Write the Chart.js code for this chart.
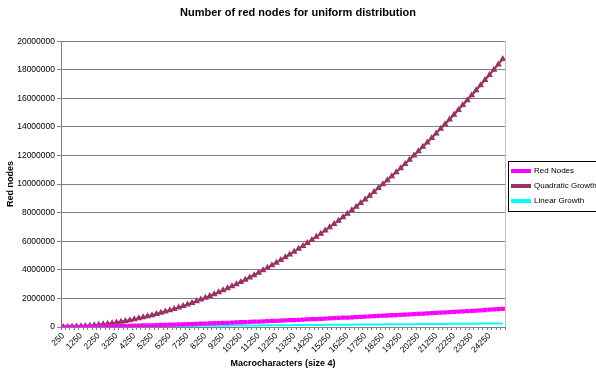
<!DOCTYPE html>
<html>
<head>
<meta charset="utf-8">
<script src="https://cdn.jsdelivr.net/npm/chart.js@4.4.1/dist/chart.umd.min.js"></script>
<style>
  html, body { margin: 0; padding: 0; background: #fff; }
  #wrap { width: 596px; height: 372px; }
</style>
</head>
<body>
<div id="wrap"><canvas id="chart" width="596" height="372"></canvas></div>
<script>
// ===== Data =====
// Macrocharacter counts (step 250)
const macrocharacters = [
  250, 500, 750, 1000, 1250, 1500, 1750, 2000, 2250, 2500,
  2750, 3000, 3250, 3500, 3750, 4000, 4250, 4500, 4750, 5000,
  5250, 5500, 5750, 6000, 6250, 6500, 6750, 7000, 7250, 7500,
  7750, 8000, 8250, 8500, 8750, 9000, 9250, 9500, 9750, 10000,
  10250, 10500, 10750, 11000, 11250, 11500, 11750, 12000, 12250, 12500,
  12750, 13000, 13250, 13500, 13750, 14000, 14250, 14500, 14750, 15000,
  15250, 15500, 15750, 16000, 16250, 16500, 16750, 17000, 17250, 17500,
  17750, 18000, 18250, 18500, 18750, 19000, 19250, 19500, 19750, 20000,
  20250, 20500, 20750, 21000, 21250, 21500, 21750, 22000, 22250, 22500,
  22750, 23000, 23250, 23500, 23750, 24000, 24250, 24500, 24750, 25000,
];

const redNodes = [
  1000, 4000, 7000, 10000, 14000, 19000, 23000, 29000, 34000, 40000,
  46000, 53000, 59000, 66000, 73000, 81000, 89000, 97000, 105000, 113000,
  122000, 131000, 140000, 149000, 158000, 168000, 177000, 187000, 198000, 208000,
  218000, 229000, 240000, 251000, 262000, 273000, 285000, 296000, 308000, 320000,
  332000, 344000, 357000, 369000, 382000, 395000, 408000, 421000, 434000, 447000,
  461000, 474000, 488000, 502000, 516000, 530000, 544000, 559000, 573000, 588000,
  603000, 618000, 633000, 648000, 663000, 678000, 694000, 709000, 725000, 741000,
  757000, 773000, 789000, 805000, 822000, 838000, 855000, 871000, 888000, 905000,
  922000, 939000, 957000, 974000, 991000, 1009000, 1027000, 1044000, 1062000, 1080000,
  1098000, 1116000, 1135000, 1153000, 1171000, 1190000, 1208000, 1227000, 1246000, 1265000,
];

const quadraticGrowth = [
  1875, 7500, 16875, 30000, 46875, 67500, 91875, 120000, 151875, 187500,
  226875, 270000, 316875, 367500, 421875, 480000, 541875, 607500, 676875, 750000,
  826875, 907500, 991875, 1080000, 1171875, 1267500, 1366875, 1470000, 1576875, 1687500,
  1801875, 1920000, 2041875, 2167500, 2296875, 2430000, 2566875, 2707500, 2851875, 3000000,
  3151875, 3307500, 3466875, 3630000, 3796875, 3967500, 4141875, 4320000, 4501875, 4687500,
  4876875, 5070000, 5266875, 5467500, 5671875, 5880000, 6091875, 6307500, 6526875, 6750000,
  6976875, 7207500, 7441875, 7680000, 7921875, 8167500, 8416875, 8670000, 8926875, 9187500,
  9451875, 9720000, 9991875, 10267500, 10546875, 10830000, 11116875, 11407500, 11701875, 12000000,
  12301875, 12607500, 12916875, 13230000, 13546875, 13867500, 14191875, 14520000, 14851875, 15187500,
  15526875, 15870000, 16216875, 16567500, 16921875, 17280000, 17641875, 18007500, 18376875, 18750000,
];

const linearGrowth = [
  2500, 5000, 7500, 10000, 12500, 15000, 17500, 20000, 22500, 25000,
  27500, 30000, 32500, 35000, 37500, 40000, 42500, 45000, 47500, 50000,
  52500, 55000, 57500, 60000, 62500, 65000, 67500, 70000, 72500, 75000,
  77500, 80000, 82500, 85000, 87500, 90000, 92500, 95000, 97500, 100000,
  102500, 105000, 107500, 110000, 112500, 115000, 117500, 120000, 122500, 125000,
  127500, 130000, 132500, 135000, 137500, 140000, 142500, 145000, 147500, 150000,
  152500, 155000, 157500, 160000, 162500, 165000, 167500, 170000, 172500, 175000,
  177500, 180000, 182500, 185000, 187500, 190000, 192500, 195000, 197500, 200000,
  202500, 205000, 207500, 210000, 212500, 215000, 217500, 220000, 222500, 225000,
  227500, 230000, 232500, 235000, 237500, 240000, 242500, 245000, 247500, 250000,
];

const yTicks = [0, 2000000, 4000000, 6000000, 8000000, 10000000,
  12000000, 14000000, 16000000, 18000000, 20000000];

// ===== Chart =====
const FONT = 'Liberation Sans, Arial, sans-serif';
Chart.defaults.font.family = FONT;
Chart.defaults.color = '#000';

// black frame round the legend + grey right edge of the plot, like Excel
const excelFrame = {
  id: 'excelFrame',
  afterDraw(chart) {
    const c = chart.ctx;
    const area = chart.chartArea;
    c.save();
    c.strokeStyle = '#c0c0c0';
    c.lineWidth = 1;
    c.beginPath();
    c.moveTo(Math.round(area.right) + 0.5, area.top);
    c.lineTo(Math.round(area.right) + 0.5, area.bottom);
    c.stroke();

    const lg = chart.legend;
    if (lg && lg.legendHitBoxes.length) {
      const boxes = lg.legendHitBoxes;
      const last = boxes[boxes.length - 1];
      const top = boxes[0].top - 6;
      const bottom = last.top + last.height + 6;
      const left = boxes[0].left - 4;
      c.strokeStyle = '#000';
      c.strokeRect(Math.round(left) + 0.5, Math.round(top) + 0.5, 120, Math.round(bottom - top));
    }
    c.restore();
  },
};

new Chart(document.getElementById('chart'), {
  type: 'line',
  data: {
    labels: macrocharacters,
    datasets: [
      {
        label: 'Red Nodes',
        data: redNodes,
        borderColor: '#ff00ff',
        backgroundColor: '#ff00ff',
        borderWidth: 2,
        pointStyle: 'rect',
        pointRadius: 1.6,
        pointHoverRadius: 1.6,
      },
      {
        label: 'Quadratic Growth',
        data: quadraticGrowth,
        borderColor: '#993366',
        backgroundColor: '#993366',
        borderWidth: 2,
        pointStyle: 'triangle',
        pointRadius: 2,
        pointHoverRadius: 2,
      },
      {
        label: 'Linear Growth',
        data: linearGrowth,
        borderColor: '#00ffff',
        backgroundColor: '#00ffff',
        borderWidth: 2,
        pointRadius: 0,
        pointHoverRadius: 0,
      },
    ],
  },
  options: {
    responsive: false,
    animation: false,
    layout: { padding: { left: 0, right: 0, top: 0, bottom: 0 } },
    plugins: {
      title: {
        display: true,
        text: 'Number of red nodes for uniform distribution',
        font: { size: 11, weight: 'bold' },
        padding: { top: 6, bottom: 22 },
      },
      legend: {
        position: 'right',
        maxWidth: 91,
        labels: {
          boxWidth: 18,
          boxHeight: 2,
          padding: 7,
          font: { size: 8 },
        },
      },
      tooltip: { enabled: false },
    },
    scales: {
      x: {
        offset: true,
        afterFit: (s) => { s.height = 45; },
        grid: {
          offset: true,
          drawOnChartArea: false,
          tickLength: 3,
          color: '#808080',
        },
        border: { color: '#808080' },
        ticks: {
          autoSkip: false,
          minRotation: 45,
          maxRotation: 45,
          padding: 1,
          font: { size: 8.5 },
          callback: (v, i) => (i % 4 === 0 ? macrocharacters[i] : ''),
        },
        title: {
          display: true,
          text: 'Macrocharacters (size 4)',
          font: { size: 9, weight: 'bold' },
          padding: { top: 0, bottom: 3 },
        },
      },
      y: {
        min: 0,
        max: 20000000,
        afterFit: (s) => { s.width = 61; },
        afterBuildTicks: (s) => { s.ticks = yTicks.map((v) => ({ value: v })); },
        grid: {
          color: '#808080',
          tickLength: 4,
        },
        border: { color: '#808080' },
        ticks: {
          padding: 2,
          font: { size: 8.5 },
          callback: (v) => String(v),
        },
        title: {
          display: true,
          text: 'Red nodes',
          font: { size: 9, weight: 'bold' },
          padding: { top: 5, bottom: 0 },
        },
      },
    },
  },
  plugins: [excelFrame],
});
</script>
</body>
</html>
